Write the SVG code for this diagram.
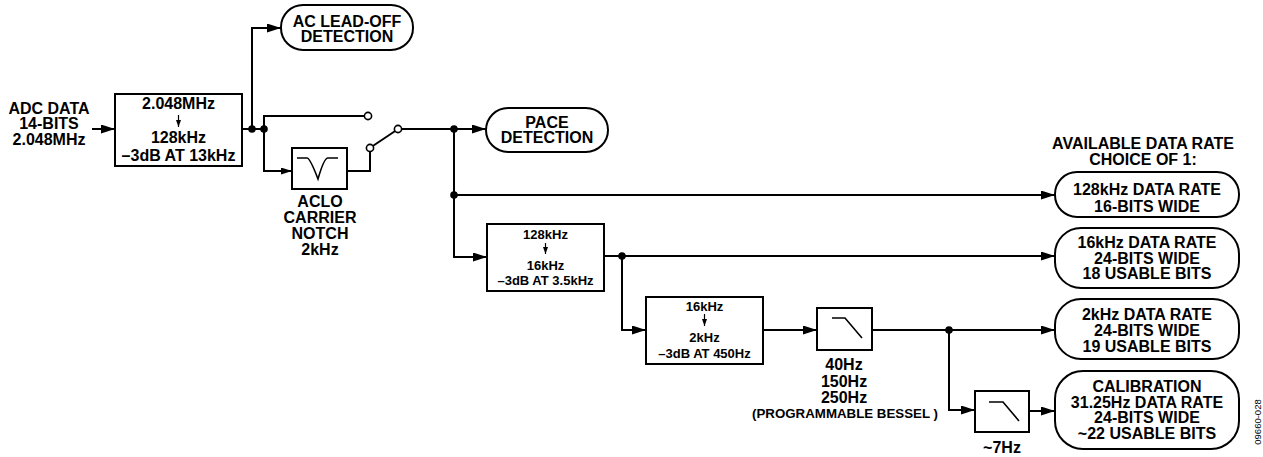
<svg xmlns="http://www.w3.org/2000/svg" width="1263" height="457" viewBox="0 0 1263 457">
<defs>
<marker id="ah" markerUnits="userSpaceOnUse" viewBox="0 0 14 9" markerWidth="14" markerHeight="9" refX="14" refY="4.5" orient="auto"><path d="M0,0 L14,4.5 L0,9 z" fill="#000"/></marker>
<marker id="ahs" markerUnits="userSpaceOnUse" viewBox="0 0 11 7" markerWidth="11" markerHeight="7" refX="11" refY="3.5" orient="auto"><path d="M0,0 L11,3.5 L0,7 z" fill="#000"/></marker>
<marker id="sa" markerUnits="userSpaceOnUse" viewBox="0 0 7 5" markerWidth="7" markerHeight="5" refX="7" refY="2.5" orient="auto"><path d="M0,0 L7,2.5 L0,5 z" fill="#000"/></marker>
</defs>
<style>
.ln{fill:none;stroke:#000;stroke-width:2}
.bx{fill:#fff;stroke:#000;stroke-width:2}
.gl{fill:none;stroke:#000;stroke-width:1.6}
.t{font-family:"Liberation Sans",Arial,sans-serif;font-weight:bold;font-size:16px;text-anchor:middle;fill:#000}
.s{font-size:13px}
.m{font-size:13.3px}
.dot{fill:#000}
.sw{fill:#fff;stroke:#000;stroke-width:1.6}
.sm{fill:none;stroke:#000;stroke-width:1.2}
</style>
<rect width="1263" height="457" fill="#fff"/>

<g id="connectors">
<path class="ln" d="M92,129 H115" marker-end="url(#ah)"/>
<path class="ln" d="M242,129 H264"/>
<path class="ln" d="M252,129 V28 H281" marker-end="url(#ah)"/>
<path class="ln" d="M264,129 V116 H364.5"/>
<path class="ln" d="M264,129 V171 H292" marker-end="url(#ahs)"/>
<path class="ln" d="M347,171 H370 V151.5"/>
<path class="ln" d="M372.8,146 L395.2,131"/>
<path class="ln" d="M401.5,129 H486" marker-end="url(#ah)"/>
<path class="ln" d="M454,129 V257 H487" marker-end="url(#ah)"/>
<path class="ln" d="M454,195 H1055" marker-end="url(#ah)"/>
<path class="ln" d="M604,256 H1055" marker-end="url(#ah)"/>
<path class="ln" d="M622,256 V330 H646" marker-end="url(#ah)"/>
<path class="ln" d="M763,330 H817" marker-end="url(#ah)"/>
<path class="ln" d="M872,330 H1055" marker-end="url(#ah)"/>
<path class="ln" d="M949,330 V410 H975" marker-end="url(#ah)"/>
<path class="ln" d="M1029,411 H1055" marker-end="url(#ah)"/>
<circle class="dot" cx="252" cy="129" r="3.8"/>
<circle class="dot" cx="264" cy="129" r="3.8"/>
<circle class="dot" cx="454" cy="129" r="3.8"/>
<circle class="dot" cx="454" cy="195" r="3.8"/>
<circle class="dot" cx="622" cy="256" r="3.8"/>
<circle class="dot" cx="949" cy="330" r="3.8"/>
<circle class="sw" cx="368" cy="116" r="3.6"/>
<circle class="sw" cx="370" cy="148" r="3.6"/>
<circle class="sw" cx="398" cy="129" r="3.6"/>
</g>

<g id="adc-input">
<text class="t" x="49" y="113.5">ADC DATA</text>
<text class="t" x="49" y="129">14-BITS</text>
<text class="t" x="49" y="144.5">2.048MHz</text>
</g>

<g id="decimator-1">
<rect class="bx" x="115" y="94" width="127" height="72"/>
<text class="t" x="178.5" y="109">2.048MHz</text>
<path class="sm" d="M178.5,115 V127" marker-end="url(#sa)"/>
<text class="t" x="178.5" y="142.5">128kHz</text>
<text class="t" x="178.5" y="160.5">–3dB AT 13kHz</text>
</g>

<g id="ac-lead-off">
<rect class="bx" x="281" y="5" width="132" height="45" rx="22" ry="22"/>
<text class="t" x="347" y="26.5">AC LEAD-OFF</text>
<text class="t" x="347" y="41.5">DETECTION</text>
</g>

<g id="notch">
<rect class="bx" x="292" y="148" width="55" height="41"/>
<path class="gl" d="M297,158 H307 Q310,158 318,179 Q324,158 328,158 H338"/>
<text class="t" x="320" y="206.5">ACLO</text>
<text class="t" x="320" y="222.5">CARRIER</text>
<text class="t" x="320" y="238.5">NOTCH</text>
<text class="t" x="320" y="254.5">2kHz</text>
</g>

<g id="pace">
<rect class="bx" x="486" y="108" width="122" height="44" rx="22" ry="22"/>
<text class="t" x="547" y="127.5">PACE</text>
<text class="t" x="547" y="142.5">DETECTION</text>
</g>

<g id="decimator-2">
<rect class="bx" x="487" y="224" width="117" height="67"/>
<text class="t s" x="545.5" y="238.5">128kHz</text>
<path class="sm" d="M545.5,243 V254" marker-end="url(#sa)"/>
<text class="t s" x="545.5" y="269.5">16kHz</text>
<text class="t s" x="545.5" y="284.5">–3dB AT 3.5kHz</text>
</g>

<g id="decimator-3">
<rect class="bx" x="646" y="297" width="117" height="67"/>
<text class="t s" x="704.5" y="310.5">16kHz</text>
<path class="sm" d="M704.5,314 V326" marker-end="url(#sa)"/>
<text class="t s" x="704.5" y="341.5">2kHz</text>
<text class="t s" x="704.5" y="357.5">–3dB AT 450Hz</text>
</g>

<g id="bessel">
<rect class="bx" x="817" y="308" width="55" height="42"/>
<path class="gl" d="M832,318 H845 L862,338"/>
<text class="t" x="844" y="369.5">40Hz</text>
<text class="t" x="844" y="386.5">150Hz</text>
<text class="t" x="844" y="402.5">250Hz</text>
<text class="t m" x="845" y="418">(PROGRAMMABLE BESSEL )</text>
</g>

<g id="lpf-7hz">
<rect class="bx" x="975" y="391" width="54" height="41"/>
<path class="gl" d="M989,402 H1003 L1019,421"/>
<text class="t" x="1002" y="452.5">~7Hz</text>
</g>

<g id="rate-heading">
<text class="t" x="1143" y="148.5">AVAILABLE DATA RATE</text>
<text class="t" x="1143" y="164.5">CHOICE OF 1:</text>
</g>

<g id="rate-128k">
<rect class="bx" x="1055" y="172" width="184" height="45" rx="22" ry="22"/>
<text class="t" x="1147" y="195">128kHz DATA RATE</text>
<text class="t" x="1147" y="211.5">16-BITS WIDE</text>
</g>

<g id="rate-16k">
<rect class="bx" x="1055" y="228" width="184" height="60" rx="26" ry="26"/>
<text class="t" x="1147" y="248">16kHz DATA RATE</text>
<text class="t" x="1147" y="263.5">24-BITS WIDE</text>
<text class="t" x="1147" y="279">18 USABLE BITS</text>
</g>

<g id="rate-2k">
<rect class="bx" x="1055" y="299" width="184" height="60" rx="26" ry="26"/>
<text class="t" x="1147" y="319.5">2kHz DATA RATE</text>
<text class="t" x="1147" y="335.5">24-BITS WIDE</text>
<text class="t" x="1147" y="351.5">19 USABLE BITS</text>
</g>

<g id="rate-cal">
<rect class="bx" x="1055" y="371" width="184" height="78" rx="28" ry="28"/>
<text class="t" x="1147" y="391.5">CALIBRATION</text>
<text class="t" x="1147" y="407.5">31.25Hz DATA RATE</text>
<text class="t" x="1147" y="423">24-BITS WIDE</text>
<text class="t" x="1147" y="438.5">~22 USABLE BITS</text>
</g>

<g id="figure-id">
<text x="0" y="0" transform="translate(1260.5,422) rotate(-90)" style="font-family:'Liberation Sans',Arial,sans-serif;font-size:9.5px;text-anchor:middle;fill:#000">09660-028</text>
</g>
</svg>
